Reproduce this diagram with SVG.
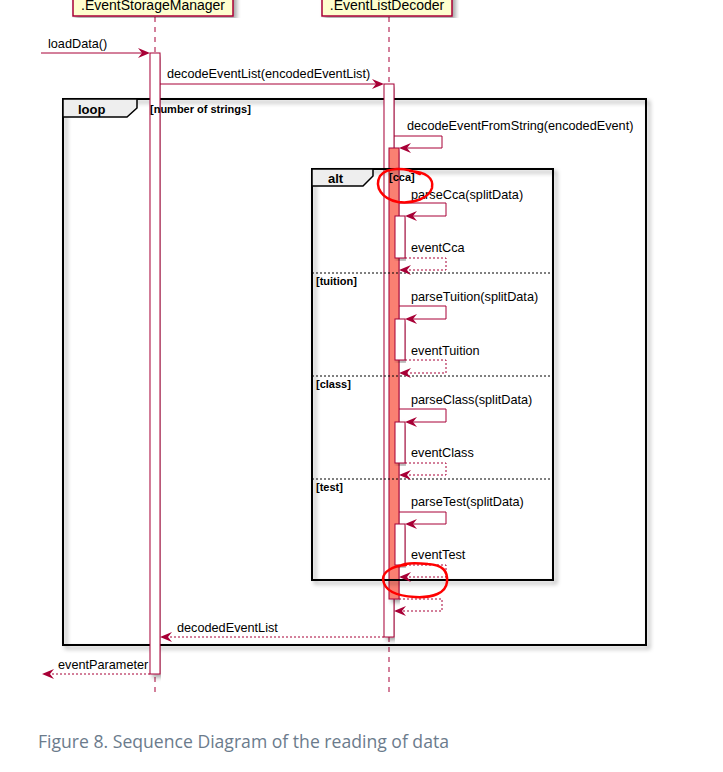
<svg xmlns="http://www.w3.org/2000/svg" width="723" height="772" viewBox="0 0 723 772">
<style>
.t{font-family:"Liberation Sans",Arial,sans-serif;font-size:12.7px;fill:#000}
.b{font-family:"Liberation Sans",Arial,sans-serif;font-size:11px;font-weight:bold;fill:#000}
.bt{font-family:"Liberation Sans",Arial,sans-serif;font-size:13px;font-weight:bold;fill:#000}
.p{font-family:"Liberation Sans",Arial,sans-serif;font-size:14px;fill:#000}
.life{stroke:#A80036;stroke-width:1;stroke-dasharray:5,5;fill:none}
.msg{stroke:#A80036;stroke-width:1;fill:none}
.ret{stroke:#A80036;stroke-width:1;fill:none;stroke-dasharray:2,2}
.act{fill:#fff;stroke:#A80036;stroke-width:1}
.sal{fill:#FA8072;stroke:#A80036;stroke-width:1}
.frame{fill:none;stroke:#000;stroke-width:2}
.sep{stroke:#000;stroke-width:1;stroke-dasharray:2,2}
.tab{fill:#EEEEEE;stroke:#000;stroke-width:1.5}
.ah{fill:#A80036}
.mark{fill:none;stroke:#FF0000;stroke-width:2.5;stroke-linecap:round}
</style>
<defs>
<filter id="sh" x="-5%" y="-5%" width="110%" height="110%">
<feDropShadow dx="3" dy="3" stdDeviation="2" flood-color="#000" flood-opacity="0.35"/>
</filter>
</defs>
<rect width="723" height="772" fill="#fff"/>

<g id="lifelines">
<line class="life" x1="155" y1="17" x2="155" y2="692"/>
<line class="life" x1="389" y1="17" x2="389" y2="692"/>
</g>

<g id="EventStorageManager">
<rect x="73" y="-15" width="160" height="31" fill="#FEFECE" stroke="#A80036" stroke-width="1.5" filter="url(#sh)"/>
<text class="p" x="153" y="10" text-anchor="middle">.EventStorageManager</text>
</g>
<g id="EventListDecoder">
<rect x="322" y="-15" width="130" height="31" fill="#FEFECE" stroke="#A80036" stroke-width="1.5" filter="url(#sh)"/>
<text class="p" x="387" y="10" text-anchor="middle">.EventListDecoder</text>
</g>

<g id="loop-frame">
<rect class="frame" x="63" y="99" width="583" height="546" filter="url(#sh)"/>
<polygon class="tab" points="63,99 137,99 137,108 127,117 63,117"/>
<text class="bt" x="78" y="114">loop</text>
</g>

<g id="activations">
<rect class="act" x="150" y="53" width="10" height="621" filter="url(#sh)"/>
<rect class="act" x="384" y="84" width="10" height="553" filter="url(#sh)"/>
<rect class="sal" x="389" y="148" width="10" height="451" filter="url(#sh)"/>
</g>
<text id="loop-guard" class="b" x="150" y="113">[number of strings]</text>

<g id="alt-frame">
<rect class="frame" x="312" y="169" width="241" height="411" filter="url(#sh)"/>
<polygon class="tab" points="312,169 373,169 373,176 363,186 312,186"/>
<text class="bt" x="328" y="183">alt</text>
<text class="b" x="389" y="181">[cca]</text>
<line class="sep" x1="312" y1="273" x2="553" y2="273"/>
<text class="b" x="316" y="285">[tuition]</text>
<line class="sep" x1="312" y1="376" x2="553" y2="376"/>
<text class="b" x="316" y="388">[class]</text>
<line class="sep" x1="312" y1="479" x2="553" y2="479"/>
<text class="b" x="316" y="491">[test]</text>
</g>

<g id="inner-activations">
<rect class="act" x="395" y="216" width="10" height="42" filter="url(#sh)"/>
<rect class="act" x="395" y="319" width="10" height="41" filter="url(#sh)"/>
<rect class="act" x="395" y="422" width="10" height="41" filter="url(#sh)"/>
<rect class="act" x="395" y="524" width="10" height="41" filter="url(#sh)"/>
</g>

<g id="connectors">
<line class="msg" x1="41" y1="53" x2="148" y2="53"/>
<polygon class="ah" points="150,53 138,48 142,53 138,58"/>
<text class="t" x="48" y="48">loadData()</text>
<line class="msg" x1="160" y1="84" x2="382" y2="84"/>
<polygon class="ah" points="384,84 372,79 376,84 372,89"/>
<text class="t" x="167" y="78">decodeEventList(encodedEventList)</text>
<polyline class="msg" points="394,136 442,136 442,148 401,148"/>
<polygon class="ah" points="399,148 411,143 407,148 411,153"/>
<text class="t" x="407" y="130">decodeEventFromString(encodedEvent)</text>
<polyline class="msg" points="399,203 446,203 446,216 407,216"/>
<polygon class="ah" points="405,216 417,211 413,216 417,221"/>
<text class="t" x="411" y="199">parseCca(splitData)</text>
<polyline class="ret" points="405,258 446,258 446,270 401,270"/>
<polygon class="ah" points="399,270 411,265 407,270 411,275"/>
<text class="t" x="411" y="252">eventCca</text>
<polyline class="msg" points="399,306 446,306 446,319 407,319"/>
<polygon class="ah" points="405,319 417,314 413,319 417,324"/>
<text class="t" x="411" y="301">parseTuition(splitData)</text>
<polyline class="ret" points="405,360 446,360 446,373 401,373"/>
<polygon class="ah" points="399,373 411,368 407,373 411,378"/>
<text class="t" x="411" y="355">eventTuition</text>
<polyline class="msg" points="399,409 446,409 446,422 407,422"/>
<polygon class="ah" points="405,422 417,417 413,422 417,427"/>
<text class="t" x="411" y="404">parseClass(splitData)</text>
<polyline class="ret" points="405,463 446,463 446,475 401,475"/>
<polygon class="ah" points="399,475 411,470 407,475 411,480"/>
<text class="t" x="411" y="457">eventClass</text>
<polyline class="msg" points="399,512 446,512 446,524 407,524"/>
<polygon class="ah" points="405,524 417,519 413,524 417,529"/>
<text class="t" x="411" y="506">parseTest(splitData)</text>
<polyline class="ret" points="405,565 446,565 446,577 401,577"/>
<polygon class="ah" points="399,577 411,572 407,577 411,582"/>
<text class="t" x="411" y="559">eventTest</text>
<polyline class="ret" points="399,599 442,599 442,611 396,611"/>
<polygon class="ah" points="394,611 406,606 402,611 406,616"/>
<line class="ret" x1="384" y1="637" x2="162" y2="637"/>
<polygon class="ah" points="160,637 172,632 168,637 172,642"/>
<text class="t" x="177" y="632">decodedEventList</text>
<line class="ret" x1="150" y1="674" x2="44" y2="674"/>
<polygon class="ah" points="42,674 54,669 50,674 54,679"/>
<text class="t" x="58" y="669">eventParameter</text>
</g>

<g id="annotations">
<path class="mark" d="M420,174 C405,167 387,167 380,176 C374,187 382,199 398,202 C414,204 429,198 432,188 C434,178 426,172 410,171"/>
<path class="mark" d="M406,565 C392,566 383,572 383,579 C384,590 396,596 415,597 C433,598 446,593 447,582 C448,571 443,565 428,564 C418,563 405,562 400,566"/>
</g>

<text x="38" y="748" font-family="'Open Sans',sans-serif" font-size="17.6" fill="#6b7b8c">Figure 8. Sequence Diagram of the reading of data</text>
</svg>
